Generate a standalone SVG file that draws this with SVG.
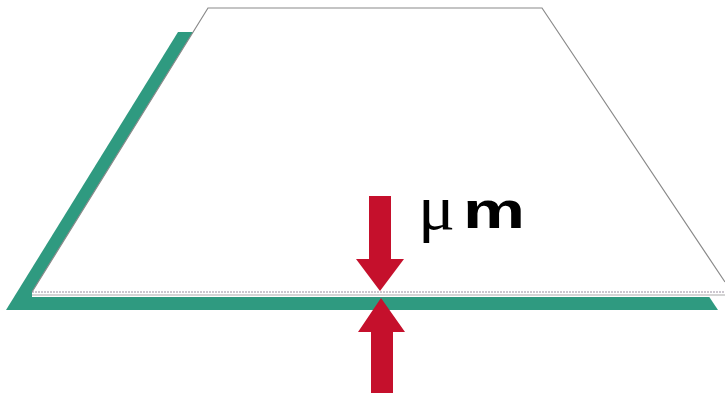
<svg xmlns="http://www.w3.org/2000/svg" width="725" height="396" viewBox="0 0 725 396">
<style>
.green{fill:#2f9a80}
.arrow{fill:#c5102c}
.mu{font-family:"Liberation Serif",serif;font-size:64px;fill:#000}
.m{font-family:"Liberation Sans",Arial,sans-serif;font-size:52px;font-weight:bold;fill:#000}
</style>
<rect width="725" height="396" fill="#ffffff"/>
<g id="substrate">
<polygon class="green" points="178,32 532,32 718,310 6,310"/>
</g>
<g id="film">
<polygon fill="#ffffff" points="208,8 542,8 725,282 725,297 32,297 32,292"/>
<polyline fill="none" stroke="#8a8a8a" stroke-width="1.2" points="32,292 208,8 542,8 725,282"/>
<line x1="32" y1="292" x2="725" y2="292" stroke="#9a8fa0" stroke-width="1" stroke-dasharray="2,1"/>
<line x1="32" y1="295" x2="725" y2="295" stroke="#a9a9a9" stroke-width="1"/>
</g>
<g id="arrow-down">
<polygon class="arrow" points="369,196 391,196 391,259 404,259 380,291 356,259 369,259"/>
</g>
<g id="arrow-up">
<polygon class="arrow" points="381,298 405,332 393,332 393,393 371,393 371,332 358,332"/>
</g>
<g id="label">
<text class="mu" x="418" y="229" textLength="37" lengthAdjust="spacingAndGlyphs">μ</text>
<text class="m" x="463" y="228" textLength="62" lengthAdjust="spacingAndGlyphs">m</text>
</g>
</svg>
